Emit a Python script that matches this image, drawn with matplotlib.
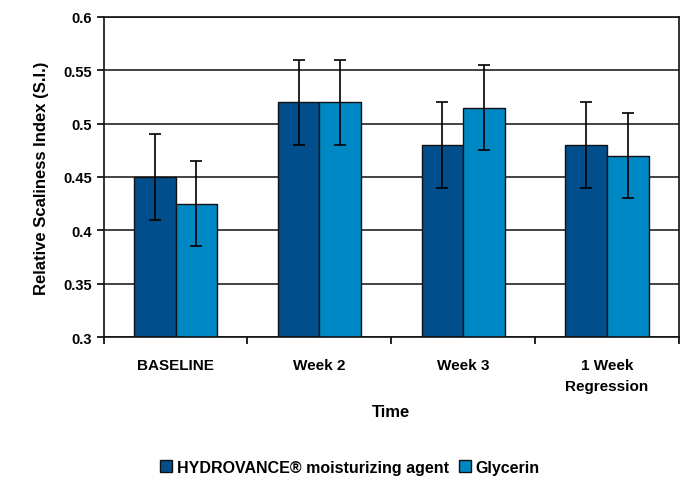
import matplotlib
matplotlib.use("Agg")
import matplotlib.pyplot as plt
import numpy as np

categories = ["BASELINE", "Week 2", "Week 3", "1 Week\nRegression"]
series_names = ["HYDROVANCE® moisturizing agent", "Glycerin"]
hydrovance = [0.45, 0.52, 0.48, 0.48]
hydrovance_err = [0.04, 0.04, 0.04, 0.04]
glycerin = [0.425, 0.52, 0.515, 0.47]
glycerin_err = [0.04, 0.04, 0.04, 0.04]
yticks = [0.3, 0.35, 0.4, 0.45, 0.5, 0.55, 0.6]
ytick_labels = ["0.3", "0.35", "0.4", "0.45", "0.5", "0.55", "0.6"]

plt.rcParams['font.family'] = ['Liberation Sans', 'DejaVu Sans']
plt.rcParams['font.weight'] = 'bold'

fig = plt.figure(figsize=(7, 4.85), dpi=100)
ax = fig.add_axes([0.148, 0.303, 0.822, 0.660])

x = np.arange(len(categories))
w = 0.29
c1 = "#004F8C"
c2 = "#0088C4"
ax.set_axisbelow(True)
ax.yaxis.grid(True, color="#222222", linewidth=1.2)
ax.bar(x - w/2, hydrovance, w, color=c1, edgecolor="#111111", linewidth=1.0,
       label=series_names[0], zorder=2)
ax.bar(x + w/2, glycerin, w, color=c2, edgecolor="#111111", linewidth=1.0,
       label=series_names[1], zorder=2)
ax.errorbar(x - w/2, hydrovance, yerr=hydrovance_err, fmt='none', ecolor='black',
            elinewidth=1.2, capsize=4, capthick=1.2, zorder=3)
ax.errorbar(x + w/2, glycerin, yerr=glycerin_err, fmt='none', ecolor='black',
            elinewidth=1.2, capsize=4, capthick=1.2, zorder=3)

ax.set_ylim(0.3, 0.6)
ax.set_xlim(-0.5, len(categories) - 0.5)
ax.set_yticks(yticks)
ax.set_yticklabels(ytick_labels, fontsize=10.5, fontweight='bold')
ax.set_xticks(x)
ax.set_xticklabels(categories, fontsize=11, fontweight='bold', linespacing=1.65)
ax.tick_params(axis='x', length=0, pad=15)
ax.set_xticks(np.arange(len(categories) + 1) - 0.5, minor=True)
ax.tick_params(axis='x', which='minor', length=5, width=1.2, direction='out')
ax.tick_params(axis='y', length=5, width=1.2, direction='out')
for s in ax.spines.values():
    s.set_linewidth(1.2)
    s.set_color("#111111")

ax.set_ylabel("Relative Scaliness Index (S.I.)", fontsize=12, fontweight='bold', labelpad=10)
ax.set_xlabel("Time", fontsize=12, fontweight='bold', labelpad=8)

fig.legend(loc='center', bbox_to_anchor=(0.5, 0.035), ncol=2, frameon=False,
           prop={'size': 11.5, 'weight': 'bold'}, handlelength=0.75, handleheight=0.75,
           handletextpad=0.3, columnspacing=0.6)

fig.savefig("out.png", dpi=100)
